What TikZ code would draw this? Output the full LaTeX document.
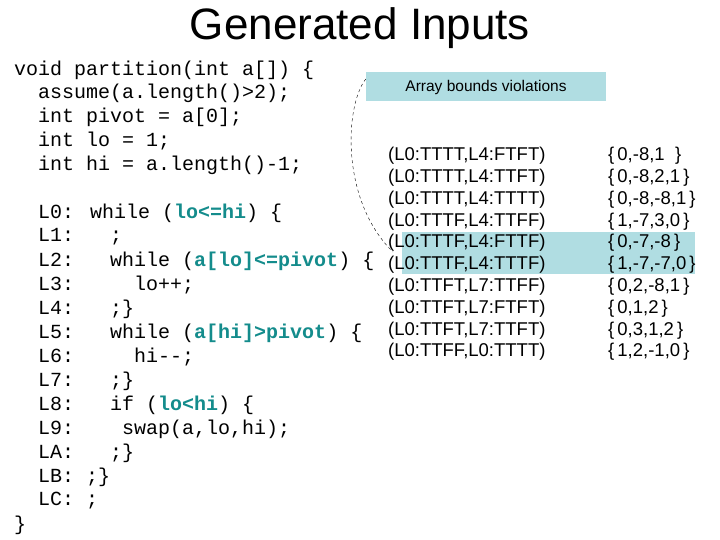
\documentclass[tikz,border=0pt]{standalone}
\usepackage{fontspec}
\setmainfont{Liberation Sans}
\newfontfamily\codefont{Liberation Mono}
\definecolor{hl}{RGB}{176,221,226}
\definecolor{kw}{RGB}{20,140,140}
\begin{document}
\begin{tikzpicture}[x=1pt,y=-1pt,
  code/.style={anchor=west,inner sep=0pt,font=\codefont\fontsize{20}{20}\selectfont},
  tup/.style={anchor=west,inner sep=0pt,font=\fontsize{18.5}{19}\selectfont},
  hb/.style={fill=hl,draw=none}]
\useasboundingbox[fill=white] (0,0) rectangle (720,540);
\newcommand\kwb[1]{\textcolor{kw}{\textbf{#1}}}
\node[font=\fontsize{44}{46}\selectfont] (title) at (360,28) {Generated Inputs};
% code
\node[code] (c0) at (14,70) {void partition(int a[]) \{};
\node[code] (c1) at (14,93) {~~assume(a.length()>2);};
\node[code] (c2) at (14,117) {~~int pivot = a[0];};
\node[code] (c3) at (14,141) {~~int lo = 1;};
\node[code] (c4) at (14,165) {~~int hi = a.length()-1;};
\node[code] (l0) at (14,213) {~~L0: while (\kwb{lo<=hi}) \{};
\node[code] (l1) at (14,237) {~~L1:~~~;};
\node[code] (l2) at (14,261) {~~L2:~~~while (\kwb{a[lo]<=pivot}) \{};
\node[code] (l3) at (14,285) {~~L3:~~~~~lo++;};
\node[code] (l4) at (14,309) {~~L4:~~~;\}};
\node[code] (l5) at (14,333) {~~L5:~~~while (\kwb{a[hi]>pivot}) \{};
\node[code] (l6) at (14,357) {~~L6:~~~~~hi--;};
\node[code] (l7) at (14,381) {~~L7:~~~;\}};
\node[code] (l8) at (14,405) {~~L8:~~~if (\kwb{lo<hi}) \{};
\node[code] (l9) at (14,429) {~~L9:~~~~swap(a,lo,hi);};
\node[code] (la) at (14,453) {~~LA:~~~;\}};
\node[code] (lb) at (14,477) {~~LB: ;\}};
\node[code] (lc) at (14,501) {~~LC: ;};
\node[code] (ce) at (14,525) {\}};
% boxes
\node[hb,minimum width=240,minimum height=29,font=\fontsize{15.5}{16}\selectfont] (abv) at (486,87) {Array bounds violations};
\fill[hl] (402,232) rectangle (695,274);
\coordinate (hs) at (393,252);
\draw[dashed,thin] (abv.west) ++(0,-8) .. controls (345,105) and (340,200) .. (hs);
% tuples
\foreach \t/\s [count=\i from 0] in {
 {(L0:TTTT,L4:FTFT)}/{\{\,0,-8,1~~\}},
 {(L0:TTTT,L4:TTFT)}/{\{\,0,-8,2,1\,\}},
 {(L0:TTTT,L4:TTTT)}/{\{\,0,-8,-8,1\,\}},
 {(L0:TTTF,L4:TTFF)}/{\{\,1,-7,3,0\,\}},
 {(L0:TTTF,L4:FTTF)}/{\{\,0,-7,-8\,\}},
 {(L0:TTTF,L4:TTTF)}/{\{\,1,-7,-7,0\,\}},
 {(L0:TTFT,L7:TTFF)}/{\{\,0,2,-8,1\,\}},
 {(L0:TTFT,L7:FTFT)}/{\{\,0,1,2\,\}},
 {(L0:TTFT,L7:TTFT)}/{\{\,0,3,1,2\,\}},
 {(L0:TTFF,L0:TTTT)}/{\{\,1,2,-1,0\,\}}}{
  \node[tup] (t\i) at (388,156+21.8*\i) {\t};
  \node[tup] (s\i) at (608,156+21.8*\i) {\s};
}
\end{tikzpicture}
\end{document}
